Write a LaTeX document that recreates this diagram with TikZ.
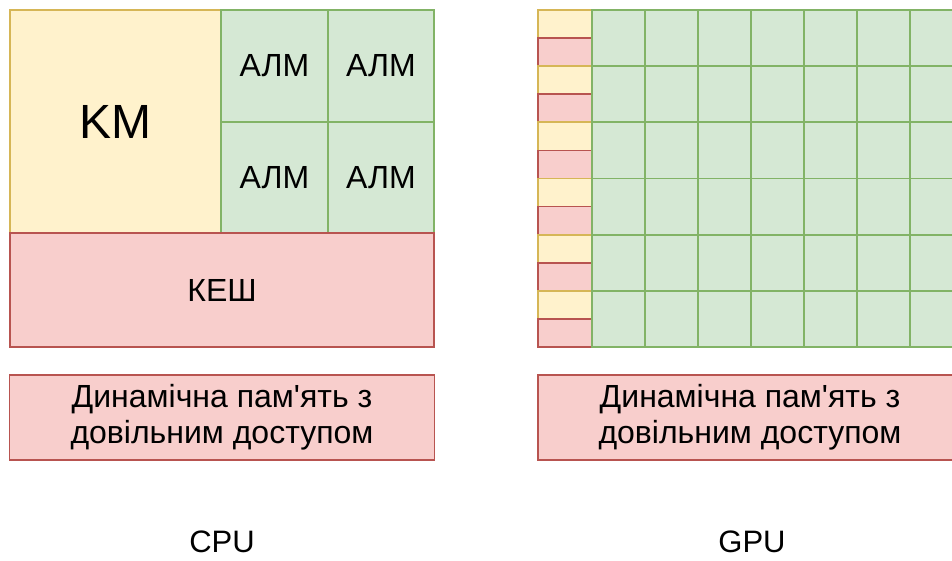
\documentclass[tikz,border=0pt]{standalone}
\usepackage{fontspec}
\setmainfont{Liberation Sans}
\definecolor{ystroke}{HTML}{D6B656}
\definecolor{yfill}{HTML}{FFF2CC}
\definecolor{rstroke}{HTML}{B85450}
\definecolor{rfill}{HTML}{F8CECC}
\definecolor{gstroke}{HTML}{82B366}
\definecolor{gfill}{HTML}{D5E8D4}
\tikzset{
  cell/.style={rectangle, inner sep=0pt, outer sep=0pt, line width=1.8pt, text=black},
  ybox/.style={cell, draw=ystroke, fill=yfill},
  rbox/.style={cell, draw=rstroke, fill=rfill},
  gbox/.style={cell, draw=gstroke, fill=gfill},
  bigtxt/.style={font=\fontsize{48}{52}\selectfont},
  midtxt/.style={font=\fontsize{32}{36}\selectfont, align=center},
  lbl/.style={inner sep=0pt, font=\fontsize{31}{36}\selectfont}
}
\begin{document}
\begin{tikzpicture}[x=1pt, y=-1pt]
\useasboundingbox (0,0) rectangle (952,560);
\clip (0,0) rectangle (952,560);
% CPU
\node[ybox, bigtxt, minimum width=211pt, minimum height=223pt] (km) at (115.5,121.5) {KM};
\node[gbox, midtxt, minimum width=106.5pt, minimum height=112pt] (alm11) at (274.5,66) {АЛМ};
\node[gbox, midtxt, minimum width=106.5pt, minimum height=112pt] (alm12) at (381,66) {АЛМ};
\node[gbox, midtxt, minimum width=106.5pt, minimum height=111pt] (alm21) at (274.5,177.5) {АЛМ};
\node[gbox, midtxt, minimum width=106.5pt, minimum height=111pt] (alm22) at (381,177.5) {АЛМ};
\node[rbox, midtxt, minimum width=424pt, minimum height=114pt] (cache) at (222,290) {КЕШ};
\node[rbox, midtxt, minimum width=425pt, minimum height=85pt] (dram1) at (222,417.5) {Динамічна пам\textquotesingle ять з\\довільним доступом};
\node[lbl] (cpu) at (222,542) {CPU};
% GPU
\foreach \i in {0,...,11}{
  \pgfmathsetmacro{\yc}{10+28.083*\i+14.04}
  \pgfmathtruncatemacro{\parity}{mod(\i,2)}
  \ifnum\parity=0
    \node[ybox, minimum width=54pt, minimum height=28.08pt] (s\i) at (565,\yc) {};
  \else
    \node[rbox, minimum width=54pt, minimum height=28.08pt] (s\i) at (565,\yc) {};
  \fi
}
\foreach \r in {0,...,5}{
  \foreach \c in {0,...,6}{
    \pgfmathsetmacro{\xc}{592+53*\c+26.5}
    \pgfmathsetmacro{\yc}{10+56.17*\r+28.08}
    \node[gbox, minimum width=53pt, minimum height=56.17pt] (g\r\c) at (\xc,\yc) {};
  }
}
\node[rbox, midtxt, minimum width=424pt, minimum height=85pt] (dram2) at (750,417.5) {Динамічна пам\textquotesingle ять з\\довільним доступом};
\node[lbl] (gpu) at (752,542) {GPU};
\end{tikzpicture}
\end{document}
